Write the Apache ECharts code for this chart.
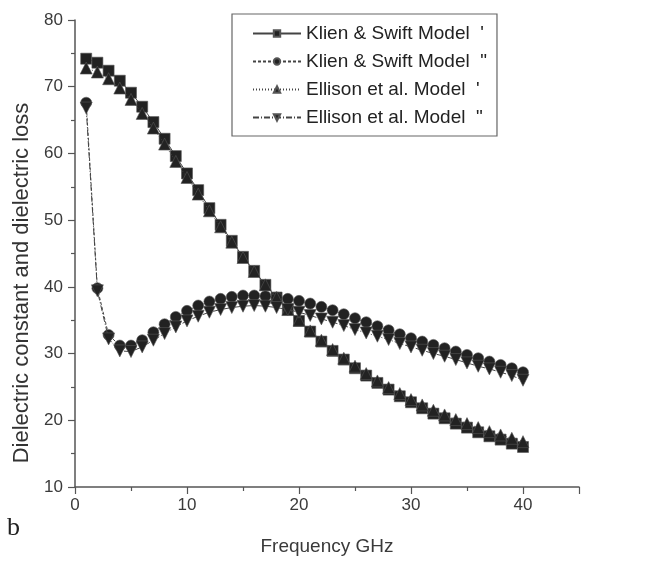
<!DOCTYPE html>
<html lang="en">
<head>
    <meta charset="UTF-8">
    <title>Dielectric constant and dielectric loss vs frequency</title>
    <script src="https://cdn.jsdelivr.net/npm/echarts@6.0.0/dist/echarts.min.js"></script>
    <style>
        body { margin: 0; background: #fff; }
        #chart { width: 651px; height: 561px; }
    </style>
</head>
<body>
    <div id="chart"></div>
    <script>
        // Frequency in GHz (1..40)
        const freq = [1, 2, 3, 4, 5, 6, 7, 8, 9, 10, 11, 12, 13, 14, 15, 16, 17, 18, 19, 20,
                      21, 22, 23, 24, 25, 26, 27, 28, 29, 30, 31, 32, 33, 34, 35, 36, 37, 38, 39, 40];

        // Klien & Swift dielectric constant (')
        const kleinReal = [74.2, 73.6, 72.4, 70.9, 69.1, 67.0, 64.7, 62.2, 59.6, 57.0,
                           54.5, 51.8, 49.3, 46.9, 44.5, 42.4, 40.3, 38.4, 36.6, 34.9,
                           33.3, 31.8, 30.4, 29.1, 27.8, 26.7, 25.6, 24.6, 23.6, 22.7,
                           21.8, 21.0, 20.3, 19.5, 18.9, 18.2, 17.6, 17.1, 16.5, 16.0];
        // Klien & Swift dielectric loss (")
        const kleinImag = [67.6, 39.8, 32.8, 31.2, 31.2, 32.0, 33.2, 34.4, 35.5, 36.4,
                           37.2, 37.8, 38.2, 38.5, 38.7, 38.7, 38.6, 38.4, 38.2, 37.9,
                           37.5, 37.0, 36.5, 35.9, 35.3, 34.7, 34.1, 33.5, 32.9, 32.3,
                           31.8, 31.3, 30.8, 30.3, 29.8, 29.3, 28.8, 28.3, 27.8, 27.2];
        // Ellison et al. dielectric constant (')
        const ellisonReal = [72.8, 72.2, 71.2, 69.8, 68.1, 66.0, 63.8, 61.4, 58.8, 56.4,
                             53.9, 51.4, 49.0, 46.7, 44.4, 42.3, 40.3, 38.4, 36.6, 35.0,
                             33.4, 32.0, 30.6, 29.3, 28.1, 27.0, 25.9, 24.9, 24.0, 23.1,
                             22.3, 21.5, 20.8, 20.1, 19.5, 18.9, 18.3, 17.8, 17.3, 16.8];
        // Ellison et al. dielectric loss (")
        const ellisonImag = [66.8, 39.4, 32.2, 30.4, 30.3, 31.0, 32.0, 33.0, 34.0, 34.9,
                             35.6, 36.2, 36.6, 36.9, 37.1, 37.2, 37.1, 36.9, 36.6, 36.2,
                             35.7, 35.2, 34.7, 34.2, 33.6, 33.1, 32.6, 32.1, 31.5, 31.0,
                             30.5, 30.0, 29.6, 29.1, 28.6, 28.1, 27.7, 27.2, 26.7, 26.0];

        const seriesNames = [
            "Klien & Swift Model  '",
            'Klien & Swift Model  "',
            "Ellison et al. Model  '",
            'Ellison et al. Model  "'
        ];

        const chart = echarts.init(document.getElementById('chart'));

        const pairs = (ys) => freq.map((f, i) => [f, ys[i]]);

        function makeSeries(name, ys, symbol, size, dash, z) {
            return {
                name: name,
                type: 'line',
                data: pairs(ys),
                symbol: symbol,
                symbolSize: size,
                z: z,
                itemStyle: { color: '#222', borderColor: '#555', borderWidth: 0.6 },
                lineStyle: { color: '#444', width: 1, type: dash },
                emphasis: { disabled: true }
            };
        }

        const axisFont = { fontFamily: 'Liberation Sans, Arial, sans-serif', color: '#3a3a3a' };

        const option = {
            animation: false,
            grid: { left: 75, right: 72, top: 20, bottom: 74 },
            legend: {
                orient: 'vertical',
                left: 232,
                top: 14,
                padding: [10, 10, 9, 20],
                itemWidth: 48,
                itemHeight: 8,
                itemGap: 9,
                borderColor: '#666',
                borderWidth: 1.2,
                textStyle: { fontSize: 19, color: '#222', fontFamily: 'Liberation Sans, Arial, sans-serif' },
                data: seriesNames
            },
            xAxis: {
                type: 'value',
                min: 0,
                max: 45,
                interval: 10,
                name: 'Frequency GHz',
                nameLocation: 'middle',
                nameGap: 50,
                nameTextStyle: Object.assign({ fontSize: 19 }, axisFont),
                axisLine: { lineStyle: { color: '#555', width: 1.5 } },
                axisTick: { length: 7, lineStyle: { color: '#555', width: 1.2 } },
                minorTick: { show: true, splitNumber: 2, length: 4, lineStyle: { color: '#555', width: 1.2 } },
                axisLabel: Object.assign({ fontSize: 17, margin: 10, showMaxLabel: false }, axisFont),
                splitLine: { show: false }
            },
            yAxis: {
                type: 'value',
                min: 10,
                max: 80,
                interval: 10,
                axisLine: { show: true, lineStyle: { color: '#555', width: 1.5 } },
                axisTick: { show: true, length: 7, lineStyle: { color: '#555', width: 1.2 } },
                minorTick: { show: true, splitNumber: 2, length: 4, lineStyle: { color: '#555', width: 1.2 } },
                axisLabel: Object.assign({ fontSize: 17, margin: 12 }, axisFont),
                splitLine: { show: false }
            },
            graphic: [
                {
                    type: 'text',
                    x: 22,
                    y: 283,
                    rotation: Math.PI / 2,
                    style: {
                        text: 'Dielectric constant and dielectric loss',
                        fontSize: 22,
                        fill: '#333',
                        fontFamily: 'Liberation Sans, Arial, sans-serif',
                        align: 'center',
                        verticalAlign: 'middle'
                    }
                },
                {
                    type: 'text',
                    left: 7,
                    top: 515,
                    style: {
                        text: 'b',
                        fontSize: 26,
                        fill: '#222',
                        fontFamily: 'Liberation Serif, Times New Roman, serif'
                    }
                }
            ],
            series: [
                makeSeries(seriesNames[0], kleinReal, 'rect', 11, 'solid', 3),
                makeSeries(seriesNames[1], kleinImag, 'circle', 11, [3, 2], 4),
                makeSeries(seriesNames[2], ellisonReal, 'triangle', 12, [1, 2], 5),
                makeSeries(seriesNames[3], ellisonImag, 'path://M0,0 L10,0 L5,9 Z', 12, [6, 2, 1, 2], 6)
            ]
        };

        chart.setOption(option);
    </script>
</body>
</html>
